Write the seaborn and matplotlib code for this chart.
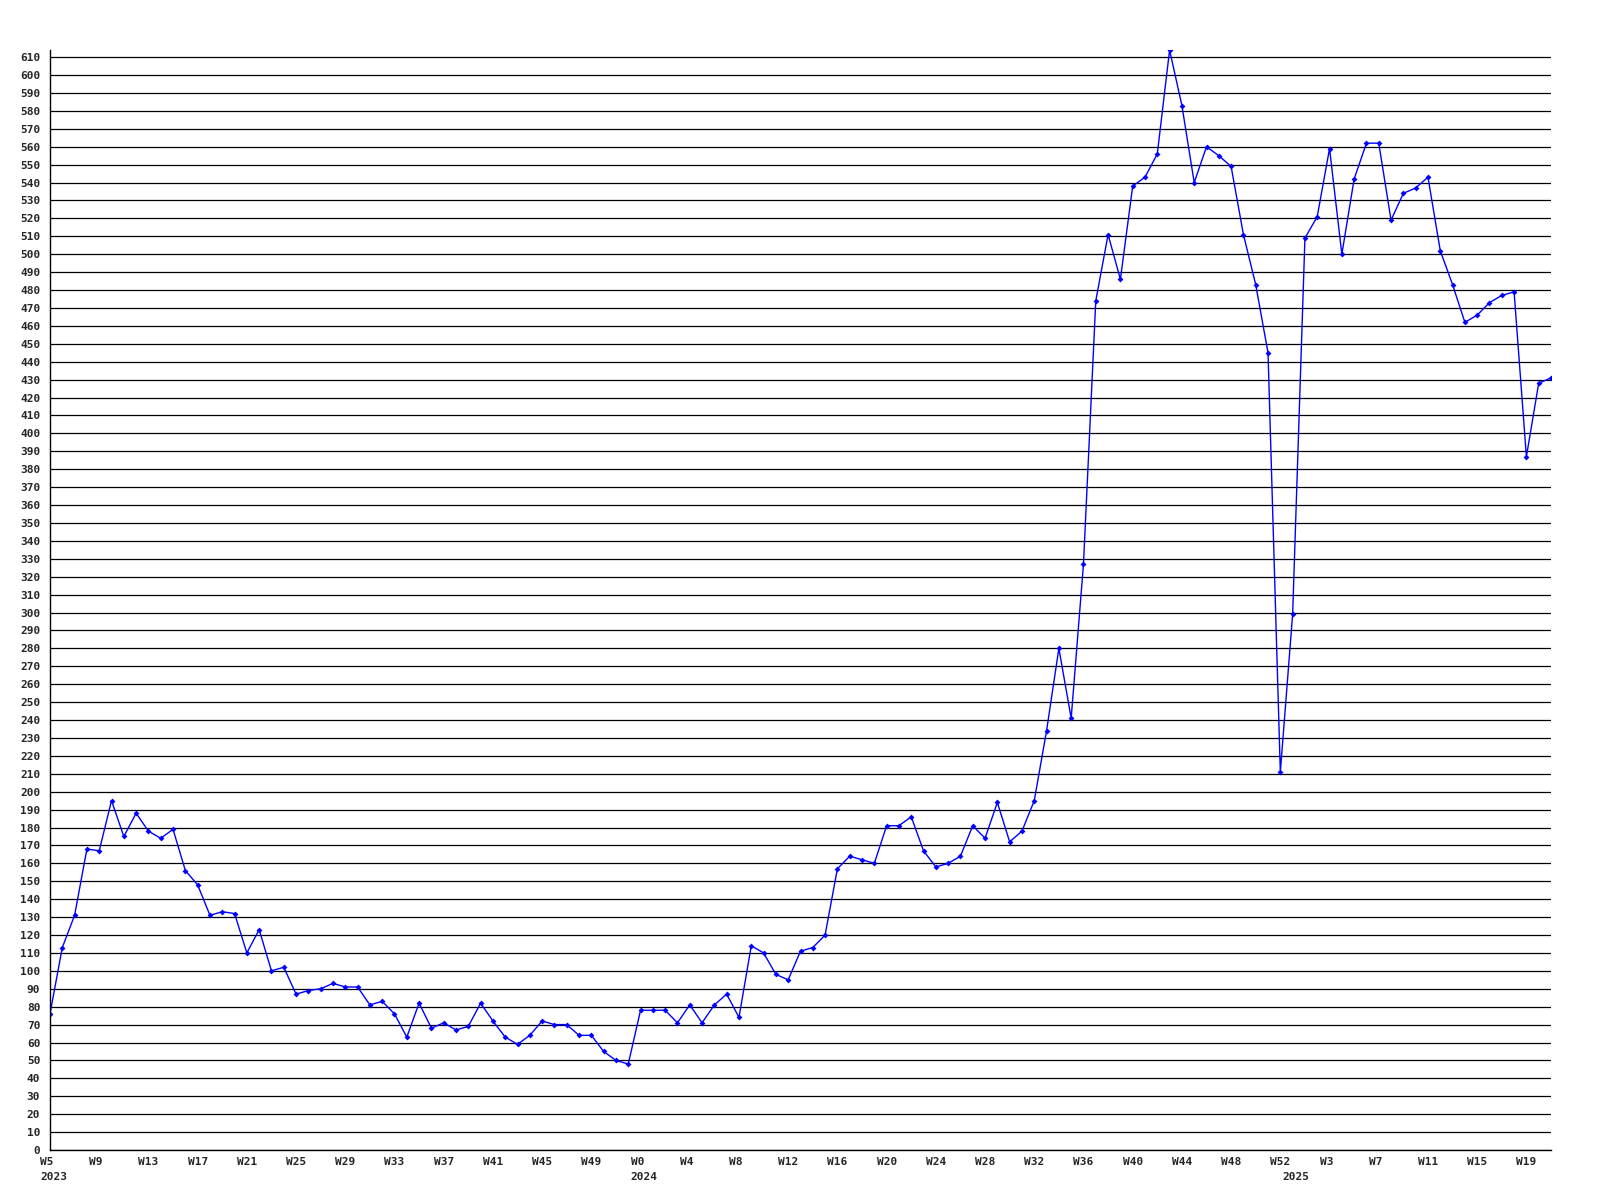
import matplotlib
matplotlib.use("Agg")
import matplotlib.pyplot as plt
import matplotlib.transforms as mtransforms
import pandas as pd
import seaborn as sns

# weekly counts
weeks_2023 = list(range(5, 53))
counts_2023 = [76, 113, 131, 168, 167, 195, 175, 188, 178, 174, 179, 156, 148, 131, 133, 132,
               110, 123, 100, 102, 87, 89, 90, 93, 91, 91, 81, 83, 76, 63, 82, 68,
               71, 67, 69, 82, 72, 63, 59, 64, 72, 70, 70, 64, 64, 55, 50, 48]
weeks_2024 = list(range(0, 53))
counts_2024 = [78, 78, 78, 71, 81, 71, 81, 87, 74, 114, 110, 98, 95, 111, 113, 120,
               157, 164, 162, 160, 181, 181, 186, 167, 158, 160, 164, 181, 174, 194, 172, 178,
               195, 234, 280, 241, 327, 474, 511, 486, 538, 543, 556, 614, 583, 540, 560, 555,
               549, 511, 483, 445, 211]
weeks_2025 = list(range(0, 22))
counts_2025 = [299, 509, 521, 559, 500, 542, 562, 562, 519, 534, 537, 543, 502, 483, 462, 466,
               473, 477, 479, 387, 428, 431]

years = [2023, 2024, 2025]
week_lists = [weeks_2023, weeks_2024, weeks_2025]
count_lists = [counts_2023, counts_2024, counts_2025]

rows = []
for yr, wks, cnts in zip(years, week_lists, count_lists):
    for w, c in zip(wks, cnts):
        rows.append({"year": yr, "week": w, "count": c})
df = pd.DataFrame(rows)
df["pos"] = range(len(df))

sns.set_style("white")
plt.rcParams["font.family"] = ["DejaVu Sans Mono", "DejaVu Sans"]
plt.rcParams["font.weight"] = "bold"

fig = plt.figure(figsize=(16, 12), dpi=100)
ax = fig.add_axes([50 / 1600, 50 / 1200, 1501 / 1600, 1100 / 1200])

sns.lineplot(data=df, x="pos", y="count", ax=ax, color="#0000ff", linewidth=1.0,
             marker="D", markersize=3, markeredgewidth=0, markerfacecolor="#0000ff")

ax.set_xlim(0, len(df) - 1)
ax.set_ylim(0, 614)
ax.set_yticks(range(0, 611, 10))
ax.set_yticklabels([str(v) for v in range(0, 611, 10)], fontsize=8, fontweight="bold")
ax.yaxis.grid(True, color="black", linewidth=0.9)
ax.xaxis.grid(False)
ax.set_axisbelow(True)

ax.set_xticks([])
ax.tick_params(axis="y", length=0, pad=7)

# week labels every 4 weeks, year labels under the first week of each year
shift = mtransforms.ScaledTranslation(-10 / 100, 0, fig.dpi_scale_trans)
trans = mtransforms.blended_transform_factory(ax.transData, ax.transAxes) + shift
for pos, wk in zip(df["pos"][::4], df["week"][::4]):
    ax.text(pos, -12 / 1100, "W%d" % wk, transform=trans, ha="left", va="center",
            fontsize=8, fontweight="bold")
for yr in years:
    first = df.loc[df["year"] == yr, "pos"].iloc[0]
    ax.text(first, -27 / 1100, str(yr), transform=trans, ha="left", va="center",
            fontsize=8, fontweight="bold")

ax.set_xlabel("")
ax.set_ylabel("")
for side in ["top", "right"]:
    ax.spines[side].set_visible(False)
for side in ["left", "bottom"]:
    ax.spines[side].set_color("black")
    ax.spines[side].set_linewidth(1.0)

fig.savefig("out.png", dpi=100, facecolor="white")
